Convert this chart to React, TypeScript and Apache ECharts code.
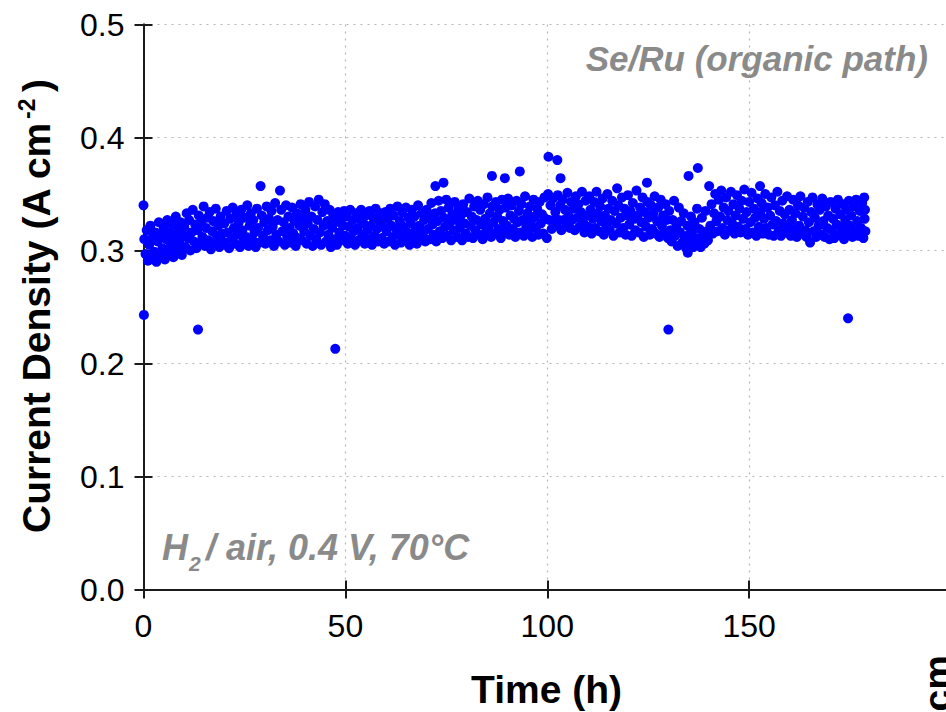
import React, { useEffect, useRef } from "react";
import * as echarts from "echarts";

// Tick values
const xTicks = [0, 50, 100, 150, 200];
const yTicks = [0.0, 0.1, 0.2, 0.3, 0.4, 0.5];

// Current density (A cm^-2) vs time (h): [time, density]
const seg0_10 = [
  [0.0, .340], [0.1, .243], [0.2, .310], [0.5, .297], [0.8, .318], [1.1, .291], [1.4, .305], [1.7, .322], [2.0, .293], [2.3, .312],
  [2.6, .299], [2.9, .316], [3.2, .290], [3.5, .308], [3.8, .325], [4.1, .295], [4.4, .314], [4.7, .302], [5.0, .320], [5.3, .292],
  [5.6, .310], [5.9, .327], [6.2, .298], [6.5, .316], [6.8, .305], [7.1, .323], [7.4, .294], [7.7, .312], [8.0, .330], [8.3, .301],
  [8.6, .318], [8.9, .307], [9.2, .325], [9.5, .296], [9.8, .314],
];
const seg10_20 = [
  [10.1, .321], [10.4, .303], [10.7, .333], [11.0, .311], [11.3, .327], [11.6, .300], [11.9, .316], [12.2, .336], [12.5, .308], [12.8, .323],
  [13.1, .302], [13.5, .230], [13.4, .318], [13.7, .331], [14.0, .306], [14.3, .325], [14.6, .312], [14.9, .339], [15.2, .304], [15.5, .320],
  [15.8, .329], [16.1, .309], [16.4, .334], [16.7, .301], [17.0, .317], [17.3, .326], [17.6, .307], [17.9, .337], [18.2, .313], [18.5, .322],
  [18.8, .303], [19.1, .330], [19.4, .315], [19.7, .308],
];
const seg20_30 = [
  [20.0, .324], [20.3, .305], [20.6, .335], [20.9, .316], [21.2, .302], [21.5, .328], [21.8, .311], [22.1, .338], [22.4, .320], [22.7, .306],
  [23.0, .332], [23.3, .314], [23.6, .325], [23.9, .303], [24.2, .336], [24.5, .318], [24.8, .309], [25.1, .329], [25.4, .312], [25.7, .340],
  [26.0, .304], [26.3, .322], [26.6, .333], [26.9, .310], [27.2, .327], [27.5, .316], [27.8, .303], [28.1, .337], [28.4, .320], [28.7, .307],
  [29.0, .357], [29.3, .331], [29.6, .313], [29.9, .325],
];
const seg30_40 = [
  [30.2, .306], [30.5, .339], [30.8, .318], [31.1, .328], [31.4, .309], [31.7, .335], [32.0, .321], [32.3, .304], [32.6, .342], [32.9, .314],
  [33.2, .327], [33.5, .308], [33.8, .353], [34.1, .336], [34.4, .317], [34.7, .325], [35.0, .305], [35.3, .340], [35.6, .312], [35.9, .330],
  [36.2, .320], [36.5, .307], [36.8, .338], [37.1, .315], [37.4, .326], [37.7, .304], [38.0, .333], [38.3, .311], [38.6, .322], [38.9, .341],
  [39.2, .309], [39.5, .329], [39.8, .317],
];
const seg40_50 = [
  [40.1, .336], [40.4, .306], [40.7, .324], [41.0, .343], [41.3, .313], [41.6, .330], [41.9, .304], [42.2, .319], [42.5, .339], [42.8, .310],
  [43.1, .327], [43.4, .345], [43.7, .316], [44.0, .305], [44.3, .334], [44.6, .322], [44.9, .341], [45.2, .308], [45.5, .326], [45.8, .314],
  [46.1, .336], [46.4, .303], [46.7, .320], [47.0, .331], [47.5, .213], [47.3, .310], [47.6, .325], [47.9, .305], [48.2, .334], [48.5, .316],
  [48.8, .328], [49.1, .309], [49.4, .322], [49.7, .335],
];
const seg50_60 = [
  [50.0, .313], [50.3, .330], [50.6, .306], [50.9, .321], [51.2, .336], [51.5, .310], [51.8, .327], [52.1, .317], [52.4, .305], [52.7, .333],
  [53.0, .320], [53.3, .309], [53.6, .328], [53.9, .336], [54.2, .314], [54.5, .324], [54.8, .306], [55.1, .331], [55.4, .318], [55.7, .310],
  [56.0, .335], [56.3, .322], [56.6, .305], [56.9, .329], [57.2, .313], [57.5, .337], [57.8, .319], [58.1, .308], [58.4, .326], [58.7, .333],
  [59.0, .311], [59.3, .321], [59.6, .306], [59.9, .334],
];
const seg60_70 = [
  [60.2, .317], [60.5, .328], [60.8, .308], [61.1, .337], [61.4, .322], [61.7, .312], [62.0, .331], [62.3, .305], [62.6, .319], [62.9, .339],
  [63.2, .314], [63.5, .326], [63.8, .307], [64.1, .334], [64.4, .321], [64.7, .310], [65.0, .338], [65.3, .316], [65.6, .329], [65.9, .305],
  [66.2, .324], [66.5, .336], [66.8, .312], [67.1, .330], [67.4, .318], [67.7, .306], [68.0, .340], [68.3, .322], [68.6, .311], [68.9, .333],
  [69.2, .315], [69.5, .327], [69.8, .308],
];
const seg70_80 = [
  [70.1, .336], [70.4, .319], [70.7, .329], [71.0, .310], [71.3, .342], [71.6, .323], [71.9, .314], [72.3, .357], [72.2, .333], [72.5, .308],
  [72.8, .326], [73.1, .344], [73.4, .317], [73.7, .335], [74.0, .311], [74.3, .360], [74.4, .329], [74.7, .321], [75.0, .345], [75.3, .313],
  [75.6, .338], [75.9, .325], [76.2, .309], [76.5, .332], [76.8, .318], [77.1, .343], [77.4, .327], [77.7, .312], [78.0, .337], [78.3, .320],
  [78.6, .331], [78.9, .309], [79.2, .341], [79.5, .324], [79.8, .315],
];
const seg80_90 = [
  [80.1, .334], [80.4, .312], [80.7, .346], [81.0, .322], [81.3, .330], [81.6, .311], [81.9, .339], [82.2, .318], [82.5, .327], [82.8, .344],
  [83.1, .314], [83.4, .336], [83.7, .323], [84.0, .310], [84.3, .341], [84.6, .328], [84.9, .317], [85.2, .347], [85.5, .321], [85.8, .333],
  [86.1, .312], [86.3, .366], [86.4, .339], [86.7, .325], [87.0, .315], [87.3, .343], [87.6, .330], [87.9, .319], [88.2, .336], [88.5, .311],
  [88.8, .345], [89.1, .326], [89.5, .364], [89.4, .317], [89.7, .338],
];
const seg90_100 = [
  [90.0, .322], [90.3, .346], [90.6, .314], [90.9, .331], [91.2, .340], [91.5, .319], [91.8, .328], [92.1, .312], [92.4, .344], [92.7, .325],
  [93.0, .335], [93.2, .370], [93.3, .316], [93.6, .341], [93.9, .327], [94.2, .313], [94.5, .348], [94.8, .321], [95.1, .333], [95.4, .318],
  [95.7, .339], [96.0, .326], [96.3, .312], [96.6, .345], [96.9, .330], [97.2, .320], [97.5, .337], [97.8, .314], [98.1, .343], [98.4, .324],
  [98.7, .332], [99.0, .315], [99.3, .347], [99.6, .328], [99.9, .311],
];
const seg100_110 = [
  [100.2, .350], [100.3, .383], [100.5, .327], [100.8, .340], [101.1, .319], [101.4, .346], [101.7, .327], [102.0, .334], [102.5, .380], [102.3, .322],
  [102.6, .349], [102.9, .327], [103.3, .364], [103.2, .340], [103.5, .318], [103.8, .345], [104.1, .327], [104.4, .336], [104.7, .323], [105.0, .351],
  [105.3, .330], [105.6, .320], [105.9, .343], [106.2, .327], [106.5, .337], [106.8, .318], [107.1, .348], [107.4, .329], [107.7, .341], [108.0, .321],
  [108.3, .334], [108.6, .352], [108.9, .325], [109.2, .316], [109.5, .344], [109.8, .331],
];
const seg110_120 = [
  [110.1, .321], [110.4, .348], [110.7, .336], [111.0, .315], [111.3, .328], [111.6, .343], [111.9, .320], [112.2, .352], [112.5, .333], [112.8, .317],
  [113.1, .339], [113.4, .326], [113.7, .346], [114.0, .314], [114.3, .331], [114.6, .322], [114.9, .350], [115.2, .337], [115.5, .318], [115.8, .327],
  [116.1, .344], [116.4, .313], [116.7, .335], [117.0, .324], [117.3, .355], [117.6, .340], [117.9, .316], [118.2, .329], [118.5, .347], [118.8, .320],
  [119.1, .337], [119.4, .314], [119.7, .331],
];
const seg120_130 = [
  [120.0, .349], [120.3, .323], [120.6, .335], [120.9, .313], [121.2, .342], [121.5, .328], [121.8, .318], [122.1, .353], [122.4, .331], [122.7, .316],
  [123.0, .338], [123.3, .325], [123.6, .347], [123.9, .312], [124.2, .334], [124.7, .360], [124.5, .321], [124.8, .343], [125.1, .329], [125.4, .314],
  [125.7, .340], [126.0, .319], [126.3, .333], [126.6, .348], [126.9, .315], [127.2, .326], [127.5, .338], [127.8, .312], [128.1, .345], [128.4, .322],
  [128.7, .331], [129.0, .316], [129.3, .341], [129.6, .327], [129.9, .311],
];
const seg130_140 = [
  [130.0, .230], [130.2, .335], [130.5, .318], [130.8, .308], [131.1, .327], [131.4, .344], [131.7, .313], [132.0, .321], [132.3, .304], [132.6, .338],
  [132.9, .316], [133.2, .326], [133.5, .307], [133.8, .333], [134.1, .312], [134.4, .302], [134.8, .298], [135.0, .366], [134.7, .322], [135.1, .314],
  [135.3, .306], [135.6, .330], [135.9, .318], [136.2, .303], [136.5, .325], [136.8, .311], [137.3, .373], [137.1, .337], [137.4, .308], [137.7, .319],
  [138.0, .303], [138.3, .329], [138.6, .313], [138.9, .306], [139.2, .335], [139.5, .317], [139.8, .309],
];
const seg140_150 = [
  [140.1, .357], [140.4, .322], [140.7, .341], [141.0, .315], [141.3, .333], [141.6, .350], [141.9, .326], [142.2, .317], [142.5, .345], [142.8, .330],
  [143.1, .353], [143.4, .320], [143.7, .338], [144.0, .314], [144.3, .347], [144.6, .327], [144.9, .335], [145.2, .318], [145.5, .352], [145.8, .324],
  [146.1, .341], [146.4, .315], [146.7, .331], [147.0, .349], [147.3, .321], [147.6, .337], [147.9, .316], [148.2, .344], [148.5, .328], [148.8, .354],
  [149.1, .319], [149.4, .334], [149.7, .314],
];
const seg150_160 = [
  [150.0, .343], [150.3, .325], [150.6, .351], [150.9, .316], [151.2, .337], [151.5, .329], [151.8, .313], [152.1, .346], [152.7, .357], [152.4, .321],
  [152.8, .334], [153.1, .342], [153.4, .315], [153.7, .328], [154.0, .350], [154.3, .320], [154.6, .338], [154.9, .314], [155.2, .331], [155.5, .347],
  [155.8, .323], [156.1, .313], [156.4, .340], [156.7, .326], [157.0, .352], [157.3, .318], [157.6, .335], [157.9, .313], [158.2, .344], [158.5, .324],
  [158.8, .332], [159.1, .316], [159.4, .348], [159.7, .321],
];
const seg160_170 = [
  [160.0, .336], [160.3, .313], [160.6, .327], [160.9, .345], [161.2, .319], [161.5, .333], [161.8, .312], [162.1, .340], [162.4, .322], [162.7, .348],
  [163.0, .315], [163.3, .330], [163.6, .338], [163.9, .318], [164.2, .312], [164.5, .343], [164.8, .325], [165.1, .307], [165.4, .334], [165.7, .347],
  [166.0, .317], [166.3, .329], [166.6, .312], [166.9, .341], [167.2, .322], [167.5, .336], [167.8, .314], [168.1, .346], [168.4, .326], [168.7, .312],
  [169.0, .339], [169.3, .320], [169.6, .331], [169.9, .310],
];
const seg170_180 = [
  [170.2, .343], [170.5, .318], [170.8, .328], [171.1, .311], [171.4, .337], [171.7, .323], [172.0, .345], [172.3, .314], [172.6, .332], [172.9, .320],
  [173.2, .341], [173.5, .310], [173.8, .327], [174.1, .336], [174.5, .240], [174.4, .315], [174.7, .344], [175.0, .322], [175.3, .331], [175.6, .312],
  [175.9, .339], [176.2, .318], [176.5, .345], [176.8, .326], [177.1, .313], [177.4, .335], [177.7, .320], [178.0, .342], [178.3, .311], [178.5, .347],
  [178.6, .328], [178.7, .336], [178.8, .317],
];

const FONT = "'Liberation Sans', Arial, Helvetica, sans-serif";

export default function App() {
  const ref = useRef<HTMLDivElement>(null);
  useEffect(() => {
    document.body.style.margin = "0";
    if (!ref.current) return;
    const chart = echarts.init(ref.current, null, { renderer: "svg" });
    const data = [
      ...seg0_10, ...seg10_20, ...seg20_30, ...seg30_40, ...seg40_50, ...seg50_60,
      ...seg60_70, ...seg70_80, ...seg80_90, ...seg90_100, ...seg100_110, ...seg110_120,
      ...seg120_130, ...seg130_140, ...seg140_150, ...seg150_160, ...seg160_170, ...seg170_180,
    ];
    const axisLine = { show: true, lineStyle: { color: "#1a1a1a", width: 2 } };
    const tick = { show: true, inside: true, length: 9, lineStyle: { color: "#1a1a1a", width: 2 } };
    const split = { show: true, lineStyle: { color: "#b5b5b5", width: 1.2, type: [2, 5] as any } };
    const gray = "#8a8a8a";
    chart.setOption({
      animation: false,
      backgroundColor: "#ffffff",
      grid: {
        left: 143.5, width: 807.5, top: 24.5, height: 565, containLabel: false,
        outerBoundsMode: "none",
      },
      xAxis: [
        {
          type: "value", position: "bottom", min: xTicks[0], max: xTicks[xTicks.length - 1], interval: 50,
          axisLine, axisTick: tick, splitLine: split,
          axisLabel: {
            color: "#000", fontSize: 32, fontFamily: FONT, margin: 20,
            formatter: (v: number) => (v === 200 ? "" : String(v)),
          },
        },
        {
          type: "value", position: "top", min: xTicks[0], max: xTicks[xTicks.length - 1], interval: 50,
          axisLine, axisTick: tick, splitLine: { show: false }, axisLabel: { show: false },
        },
      ],
      yAxis: [
        {
          type: "value", position: "left", min: yTicks[0], max: yTicks[yTicks.length - 1], interval: 0.1,
          axisLine, axisTick: tick, splitLine: split,
          axisLabel: {
            color: "#000", fontSize: 32, fontFamily: FONT, margin: 19,
            formatter: (v: number) => v.toFixed(1),
          },
        },
        {
          type: "value", position: "right", min: yTicks[0], max: yTicks[yTicks.length - 1], interval: 0.1,
          axisLine, axisTick: tick, splitLine: { show: false }, axisLabel: { show: false },
        },
      ],
      series: [
        {
          type: "scatter", xAxisIndex: 0, yAxisIndex: 0, data, symbol: "circle", symbolSize: 10,
          itemStyle: { color: "#0000ff", opacity: 1 }, clip: false, z: 3,
        },
      ],
      graphic: [
        // y title
        {
          type: "text", x: 36, y: 533, rotation: Math.PI / 2,
          style: { text: "Current Density (A cm", fontFamily: FONT, fontSize: 39, fontWeight: "bold", fill: "#000", textAlign: "left", textVerticalAlign: "middle" },
        },
        {
          type: "text", x: 27, y: 119, rotation: Math.PI / 2,
          style: { text: "-2", fontFamily: FONT, fontSize: 23, fontWeight: "bold", fill: "#000", textAlign: "left", textVerticalAlign: "middle" },
        },
        {
          type: "text", x: 36, y: 92, rotation: Math.PI / 2,
          style: { text: ")", fontFamily: FONT, fontSize: 39, fontWeight: "bold", fill: "#000", textAlign: "left", textVerticalAlign: "middle" },
        },
        // x title
        {
          type: "text", x: 546.5, y: 689,
          style: { text: "Time (h)", fontFamily: FONT, fontSize: 39, fontWeight: "bold", fill: "#000", textAlign: "center", textVerticalAlign: "middle" },
        },
        // annotations
        {
          type: "text", x: 928, y: 58,
          style: { text: "Se/Ru (organic path)", fontFamily: FONT, fontSize: 35, fontWeight: "bold", fontStyle: "italic", fill: gray, textAlign: "right", textVerticalAlign: "middle" },
        },
        {
          type: "text", x: 162, y: 547,
          style: { text: "H", fontFamily: FONT, fontSize: 36, fontWeight: "bold", fontStyle: "italic", fill: gray, textAlign: "left", textVerticalAlign: "middle" },
        },
        {
          type: "text", x: 189, y: 563,
          style: { text: "2", fontFamily: FONT, fontSize: 21, fontWeight: "bold", fontStyle: "italic", fill: gray, textAlign: "left", textVerticalAlign: "middle" },
        },
        {
          type: "text", x: 206, y: 547,
          style: { text: "/ air, 0.4 V, 70°C", fontFamily: FONT, fontSize: 36, fontWeight: "bold", fontStyle: "italic", fill: gray, textAlign: "left", textVerticalAlign: "middle" },
        },
        // fragment of the neighbouring panel's axis title, cut by the picture edge
        {
          type: "text", x: 937, y: 655, rotation: Math.PI / 2,
          style: { text: "Current Density (A cm", fontFamily: FONT, fontSize: 39, fontWeight: "bold", fill: "#000", textAlign: "right", textVerticalAlign: "middle" },
        },
      ],
    });
    return () => chart.dispose();
  }, []);
  return <div ref={ref} style={{ position: "absolute", left: 0, top: 0, width: 946, height: 712 }} />;
}
